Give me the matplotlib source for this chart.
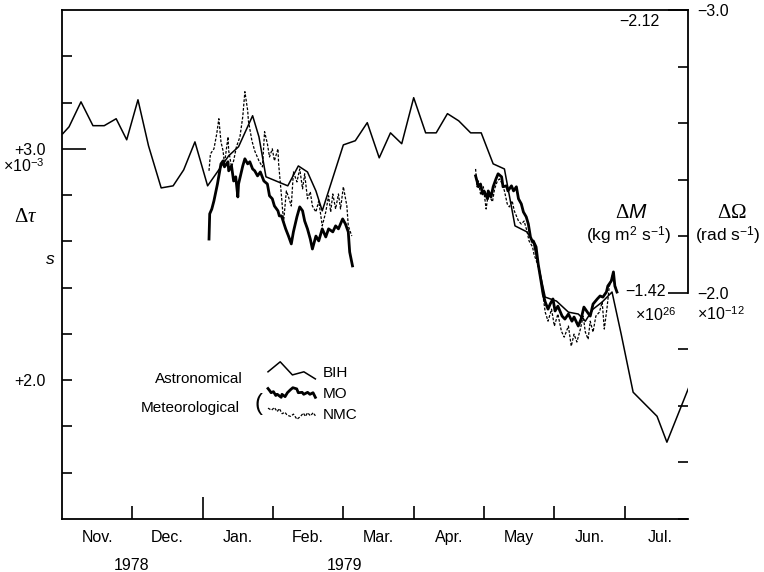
import numpy as np
import matplotlib
matplotlib.use('Agg')
import matplotlib.pyplot as plt
from matplotlib.legend_handler import HandlerBase
from matplotlib.lines import Line2D

plt.rcParams['font.family'] = ['Liberation Sans', 'DejaVu Sans']
plt.rcParams['mathtext.fontset'] = 'custom'
plt.rcParams['mathtext.rm'] = 'Liberation Serif'
plt.rcParams['mathtext.it'] = 'Liberation Serif:italic'
plt.rcParams['mathtext.sf'] = 'Liberation Sans:italic'

# time axis: months counted from 1 Nov 1978
month_labels = ['Nov.', 'Dec.', 'Jan.', 'Feb.', 'Mar.', 'Apr.', 'May', 'Jun.', 'Jul.']

# astronomical length-of-day change (BIH), units of 1e-3 s
bih_month = [0.01, 0.10, 0.27, 0.44, 0.60, 0.77, 0.92, 1.08, 1.23, 1.41,
             1.58, 1.73, 1.89, 2.07, 2.37, 2.51, 2.71, 2.80, 2.90, 3.21,
             3.36, 3.49, 3.61, 3.70, 4.00, 4.17, 4.34, 4.51, 4.67, 4.83,
             5.00, 5.17, 5.32, 5.48, 5.64, 5.81, 5.96, 6.13, 6.29, 6.44,
             6.61, 6.70, 6.87, 7.03, 7.20, 7.34, 7.44, 7.55, 7.68, 7.82,
             7.95, 8.12, 8.46, 8.60, 8.93]
bih_dtau = [3.065, 3.095, 3.203, 3.100, 3.100, 3.130, 3.039, 3.212, 3.013, 2.831,
            2.840, 2.909, 3.030, 2.840, 2.970, 3.009, 3.143, 3.052, 2.879, 2.840,
            2.926, 2.900, 2.818, 2.732, 3.017, 3.035, 3.113, 2.961, 3.069, 3.022,
            3.221, 3.069, 3.069, 3.152, 3.121, 3.069, 3.069, 2.935, 2.913, 2.667,
            2.641, 2.597, 2.359, 2.342, 2.294, 2.286, 2.255, 2.307, 2.338, 2.381,
            2.199, 1.948, 1.844, 1.732, 1.983]

# meteorological estimates, winter period (MO and NMC)
mo1_month = [2.09, 2.10, 2.13, 2.16, 2.21, 2.26, 2.29, 2.31, 2.36, 2.37,
             2.41, 2.44, 2.47, 2.50, 2.51, 2.57, 2.60, 2.64, 2.67, 2.71,
             2.74, 2.78, 2.82, 2.87, 2.92, 2.95, 2.99, 3.02, 3.07, 3.09,
             3.12, 3.18, 3.22, 3.26, 3.29, 3.34, 3.38, 3.42, 3.45, 3.49,
             3.53, 3.56, 3.61, 3.65, 3.70, 3.75, 3.79, 3.85, 3.89, 3.93,
             3.99, 4.03, 4.07, 4.09, 4.13]
mo1_dtau = [2.610, 2.719, 2.740, 2.775, 2.848, 2.935, 2.948, 2.922, 2.944, 2.905,
            2.926, 2.861, 2.879, 2.792, 2.848, 2.926, 2.957, 2.935, 2.944, 2.913,
            2.905, 2.883, 2.900, 2.861, 2.848, 2.797, 2.784, 2.753, 2.732, 2.710,
            2.710, 2.654, 2.623, 2.589, 2.641, 2.706, 2.749, 2.732, 2.688, 2.654,
            2.610, 2.567, 2.623, 2.602, 2.654, 2.619, 2.654, 2.641, 2.667, 2.654,
            2.697, 2.675, 2.641, 2.554, 2.494]

nmc1_month = [2.09, 2.11, 2.16, 2.20, 2.23, 2.26, 2.29, 2.31, 2.36, 2.37,
              2.41, 2.44, 2.48, 2.53, 2.57, 2.60, 2.64, 2.65, 2.70, 2.74,
              2.80, 2.85, 2.88, 2.92, 2.95, 2.99, 3.02, 3.07, 3.08, 3.12,
              3.15, 3.19, 3.22, 3.26, 3.29, 3.34, 3.38, 3.42, 3.45, 3.49,
              3.53, 3.56, 3.61, 3.65, 3.70, 3.75, 3.79, 3.82, 3.85, 3.89,
              3.93, 3.96, 4.00, 4.05, 4.07, 4.12]
nmc1_dtau = [2.905, 2.978, 3.000, 3.065, 3.130, 3.030, 2.991, 2.935, 3.052, 2.991,
             2.922, 2.948, 3.009, 3.052, 3.139, 3.247, 3.165, 3.121, 3.035, 2.991,
             2.948, 2.922, 3.074, 3.022, 2.965, 3.000, 2.948, 3.000, 2.935, 2.797,
             2.684, 2.818, 2.792, 2.753, 2.900, 2.857, 2.913, 2.827, 2.892, 2.784,
             2.814, 2.753, 2.727, 2.775, 2.667, 2.727, 2.797, 2.727, 2.805, 2.740,
             2.805, 2.740, 2.836, 2.753, 2.667, 2.623]

# meteorological estimates, spring period
mo2_month = [5.88, 5.90, 5.92, 5.95, 5.98, 6.00, 6.05, 6.06, 6.10, 6.13,
             6.17, 6.20, 6.25, 6.27, 6.32, 6.34, 6.39, 6.42, 6.46, 6.49,
             6.53, 6.56, 6.60, 6.63, 6.66, 6.69, 6.70, 6.74, 6.77, 6.81,
             6.84, 6.87, 6.91, 6.94, 6.98, 7.01, 7.05, 7.11, 7.15, 7.20,
             7.25, 7.28, 7.34, 7.38, 7.42, 7.47, 7.51, 7.55, 7.61, 7.65,
             7.69, 7.74, 7.76, 7.81, 7.84, 7.86, 7.89]
mo2_dtau = [2.883, 2.861, 2.836, 2.848, 2.805, 2.818, 2.784, 2.818, 2.792, 2.836,
            2.870, 2.892, 2.879, 2.836, 2.840, 2.818, 2.840, 2.818, 2.836, 2.784,
            2.762, 2.727, 2.706, 2.675, 2.619, 2.597, 2.602, 2.576, 2.502, 2.429,
            2.372, 2.338, 2.307, 2.329, 2.351, 2.299, 2.320, 2.277, 2.264, 2.286,
            2.255, 2.273, 2.234, 2.264, 2.316, 2.294, 2.277, 2.329, 2.351, 2.364,
            2.359, 2.381, 2.407, 2.429, 2.468, 2.407, 2.381]

nmc2_month = [5.88, 5.90, 5.92, 5.95, 5.99, 6.03, 6.06, 6.12, 6.15, 6.19,
              6.22, 6.26, 6.29, 6.33, 6.36, 6.40, 6.43, 6.49, 6.53, 6.57,
              6.61, 6.64, 6.69, 6.71, 6.76, 6.80, 6.83, 6.87, 6.91, 6.96,
              7.00, 7.05, 7.10, 7.14, 7.20, 7.24, 7.28, 7.32, 7.37, 7.41,
              7.44, 7.48, 7.51, 7.55, 7.59, 7.64, 7.68, 7.71, 7.75, 7.78,
              7.82, 7.85, 7.88]
nmc2_dtau = [2.913, 2.836, 2.861, 2.805, 2.836, 2.740, 2.805, 2.771, 2.827, 2.861,
             2.870, 2.848, 2.818, 2.762, 2.749, 2.775, 2.732, 2.688, 2.675, 2.688,
             2.645, 2.602, 2.576, 2.545, 2.502, 2.446, 2.385, 2.294, 2.255, 2.307,
             2.234, 2.286, 2.212, 2.186, 2.234, 2.147, 2.199, 2.165, 2.221, 2.277,
             2.208, 2.177, 2.255, 2.208, 2.277, 2.294, 2.338, 2.221, 2.316, 2.403,
             2.450, 2.424, 2.394]


class SnippetHandler(HandlerBase):
    """Legend key drawn as a small piece of the series itself."""

    def __init__(self, xs, ys, stretch=1.0, lift=0.0, flip=False):
        super().__init__()
        self.xs = np.asarray(xs, float)
        self.ys = np.asarray(ys, float)
        self.stretch = stretch
        self.lift = lift
        self.flip = flip

    def create_artists(self, legend, orig_handle, xdescent, ydescent,
                       width, height, fontsize, trans):
        u = (self.xs - self.xs.min()) / np.ptp(self.xs)
        if self.flip:
            u = 1 - u
        w = (self.ys - self.ys.min()) / np.ptp(self.ys) - 0.5
        line = Line2D(u * width - xdescent,
                      height / 2 - ydescent + (w * self.stretch + self.lift) * height)
        line.update_from(orig_handle)
        line.set_transform(trans)
        return [line]


def piece(xs, ys, lo, hi):
    xs, ys = np.asarray(xs), np.asarray(ys)
    keep = (xs >= lo) & (xs <= hi)
    return xs[keep], ys[keep]


W, H = 764, 572
fig = plt.figure(figsize=(W / 100, H / 100), dpi=100)
ax = fig.add_axes([62 / W, 1 - 519 / H, 626 / W, 509 / H])


def fpos(x, y):
    return x / W, 1 - y / H


nmc_style = dict(color='black', lw=0.9, ls=(0, (2.2, 1.3)))
bih_line, = ax.plot(bih_month, bih_dtau, color='black', lw=1.1)
mo_line, = ax.plot(mo1_month, mo1_dtau, color='black', lw=2.0)
ax.plot(mo2_month, mo2_dtau, color='black', lw=2.0)
nmc_line, = ax.plot(nmc1_month, nmc1_dtau, **nmc_style)
ax.plot(nmc2_month, nmc2_dtau, **nmc_style)

ax.set_xlim(0, 8.9)
ax.set_ylim(1.4, 3.6)

# month boundaries as ticks, month names between them
ax.set_xticks(np.arange(1, 9))
ax.set_xticks(np.arange(0.5, 9, 1), labels=month_labels, minor=True)
ax.tick_params(axis='x', which='major', direction='in', length=9.5, width=1.2,
               labelbottom=False)
ax.tick_params(axis='x', which='minor', length=0, pad=8, labelsize=11.5)

left_ticks = np.round(np.arange(1.6, 3.5, 0.2), 1)
left_labels = ['+%.1f' % v if np.isclose(v % 1, 0) else '' for v in left_ticks]
ax.set_yticks(left_ticks, labels=left_labels)
ax.tick_params(axis='y', direction='in', length=7.5, width=1.2, pad=12,
               labelsize=11.5)

for side in ['left', 'bottom', 'top']:
    ax.spines[side].set_linewidth(1.3)
ax.spines['right'].set_visible(False)

# angular velocity scale on the right
ax2 = ax.twinx()
ax2.set_ylim(-1.2, -3.0)
right_ticks = np.round(np.arange(-3.0, -1.19, 0.2), 1)
right_labels = ['\u2212%.1f' % -v if np.isclose(v % 1, 0) else '' for v in right_ticks]
ax2.set_yticks(right_ticks, labels=right_labels)
ax2.tick_params(axis='y', direction='in', length=7.5, width=1.2, pad=7,
                labelsize=11.5)
for side in ['left', 'bottom', 'top']:
    ax2.spines[side].set_visible(False)
ax2.spines['right'].set_bounds(-3.0, -2.0)
ax2.spines['right'].set_linewidth(1.3)

# longer marks at the labelled values, taller one at the year change
for tick, v in zip(ax.yaxis.get_major_ticks(), left_ticks):
    if np.isclose(v, 3.0):
        tick.tick1line.set_markersize(17)
for tick, v in zip(ax2.yaxis.get_major_ticks(), right_ticks):
    if np.isclose(v % 1, 0):
        tick.tick2line.set_markersize(14.5)
ax.xaxis.get_major_ticks()[1].tick1line.set_markersize(16)

# axis annotations
fig.text(*fpos(45, 166), r'×10$^{\mathregular{-3}}$', ha='right', va='center', fontsize=11.5)
fig.text(*fpos(26, 217), r'$\Delta\tau$', ha='center', va='center', fontsize=15)
fig.text(*fpos(50, 259), 's', style='italic', ha='center', va='center', fontsize=12.5)

fig.text(*fpos(660, 22), '\u22122.12', ha='right', va='center', fontsize=11.5)
fig.text(*fpos(631, 212), r'$\Delta\mathsf{M}$', ha='center', va='center', fontsize=15)
fig.text(*fpos(629, 236), r'(kg m$^{\mathregular{2}}$ s$^{\mathregular{-1}}$)',
         ha='center', va='center', fontsize=12.5)
fig.text(*fpos(732, 212), r'$\Delta\Omega$', ha='center', va='center', fontsize=15)
fig.text(*fpos(728, 236), r'(rad s$^{\mathregular{-1}}$)', ha='center', va='center',
         fontsize=12.5)
fig.text(*fpos(666, 292), '\u22121.42', ha='right', va='center', fontsize=11.5)
fig.text(*fpos(656, 315), r'×10$^{\mathregular{26}}$', ha='center', va='center', fontsize=11.5)
fig.text(*fpos(697, 314), r'×10$^{\mathregular{-12}}$', ha='left', va='center', fontsize=11.5)

fig.text(*fpos(132, 565), '1978', ha='center', va='center', fontsize=11.5)
fig.text(*fpos(344, 565), '1979', ha='center', va='center', fontsize=11.5)

# legend with series snippets as keys
handler_map = {
    bih_line: SnippetHandler(*piece(bih_month, bih_dtau, 4.50, 5.20),
                             stretch=1.6, lift=0.12, flip=True),
    mo_line: SnippetHandler(*piece(mo2_month, mo2_dtau, 5.88, 6.50), stretch=0.9),
    nmc_line: SnippetHandler(*piece(nmc1_month, nmc1_dtau, 3.29, 3.96), stretch=1.1),
}
ax.legend([bih_line, mo_line, nmc_line], ['BIH', 'MO', 'NMC'], handler_map=handler_map,
          loc='upper left', bbox_to_anchor=fpos(268, 366), bbox_transform=fig.transFigure,
          frameon=False, borderpad=0, borderaxespad=0, handlelength=3.1,
          handletextpad=0.5, labelspacing=0.45, fontsize=11)
fig.text(*fpos(243, 379), 'Astronomical', ha='right', va='center', fontsize=11)
fig.text(*fpos(240, 408), 'Meteorological', ha='right', va='center', fontsize=11)
fig.text(*fpos(258, 404), '(', ha='center', va='center', fontsize=17)

fig.savefig('out.png', dpi=100)
